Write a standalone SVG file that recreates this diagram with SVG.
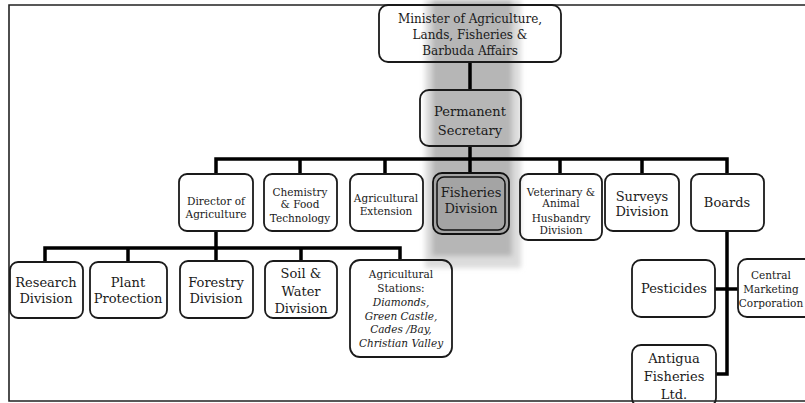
<svg xmlns="http://www.w3.org/2000/svg" width="805" height="403" viewBox="0 0 805 403">
<defs>
<style>
.box{fill:none;stroke:#1a1a1a;stroke-width:1.8}
.t{font-family:"DejaVu Serif","Liberation Serif",serif;fill:#1a1a1a;text-anchor:middle}
.s11{font-size:10.5px}
.s12{font-size:12px}
.s13{font-size:13px}
.it{font-style:italic}
.c{stroke:#000;fill:none;stroke-width:3.5}
.frame{stroke:#222;stroke-width:1.6;fill:none}
</style>
<filter id="soft" x="-20%" y="-5%" width="140%" height="110%"><feGaussianBlur stdDeviation="2.5"/></filter>
</defs>
<rect width="805" height="403" fill="#fff"/>
<g id="highlight" filter="url(#soft)">
<rect x="425" y="0" width="96" height="268" fill="#dcdcdc"/>
<rect x="432" y="0" width="80" height="256" fill="#b6b6b6"/>
</g>
<g id="frame">
<polyline class="frame" points="805,5 9,5 9,401 805,401"/>
</g>
<g id="connectors">
<line class="c" x1="470" y1="62" x2="470" y2="90"/>
<line class="c" x1="470" y1="146" x2="470" y2="173"/>
<polyline class="c" points="216,174 216,159 727,159 727,174"/>
<line class="c" x1="300" y1="159" x2="300" y2="174"/>
<line class="c" x1="385" y1="159" x2="385" y2="174"/>
<line class="c" x1="560" y1="159" x2="560" y2="174"/>
<line class="c" x1="642" y1="159" x2="642" y2="174"/>
<line class="c" x1="216" y1="231" x2="216" y2="261"/>
<polyline class="c" points="45,262 45,248 400,248 400,260"/>
<line class="c" x1="128" y1="248" x2="128" y2="262"/>
<line class="c" x1="301" y1="248" x2="301" y2="261"/>
<polyline class="c" points="727,231 727,374 716,374"/>
<line class="c" x1="715" y1="289" x2="738" y2="289"/>
</g>
<g id="minister">
<rect class="box" x="379" y="5" width="182" height="57" rx="9"/>
<text class="t s12" x="470" y="23">Minister of Agriculture,</text>
<text class="t s12" x="470" y="39">Lands, Fisheries &amp;</text>
<text class="t s12" x="470" y="55">Barbuda Affairs</text>
</g>
<g id="permanent-secretary">
<rect class="box" x="420" y="90" width="101" height="56" rx="9"/>
<text class="t s13" x="470" y="116">Permanent</text>
<text class="t s13" x="470" y="135">Secretary</text>
</g>
<g id="director">
<rect class="box" x="179" y="174" width="74" height="57" rx="8"/>
<text class="t s11" x="216" y="205">Director of</text>
<text class="t s11" x="216" y="218">Agriculture</text>
</g>
<g id="chemistry">
<rect class="box" x="264" y="174" width="73" height="57" rx="8"/>
<text class="t s11" x="300" y="196">Chemistry</text>
<text class="t s11" x="300" y="208">&amp; Food</text>
<text class="t s11" x="300" y="222">Technology</text>
</g>
<g id="extension">
<rect class="box" x="350" y="174" width="73" height="57" rx="8"/>
<text class="t s11" x="386" y="202">Agricultural</text>
<text class="t s11" x="386" y="215">Extension</text>
</g>
<g id="fisheries">
<rect x="433" y="173" width="76" height="61" rx="9" fill="#a4a4a4" stroke="#111" stroke-width="1.8"/>
<rect x="437" y="177" width="68" height="53" rx="7" fill="none" stroke="#111" stroke-width="1.5"/>
<text class="t s13" x="471" y="197">Fisheries</text>
<text class="t s13" x="471" y="213">Division</text>
</g>
<g id="veterinary">
<rect class="box" x="520" y="174" width="82" height="66" rx="8"/>
<text class="t s11" x="561" y="196">Veterinary &amp;</text>
<text class="t s11" x="561" y="207">Animal</text>
<text class="t s11" x="561" y="222">Husbandry</text>
<text class="t s11" x="561" y="234">Division</text>
</g>
<g id="surveys">
<rect class="box" x="605" y="174" width="74" height="57" rx="8"/>
<text class="t s13" x="642" y="201">Surveys</text>
<text class="t s13" x="642" y="216">Division</text>
</g>
<g id="boards">
<rect class="box" x="691" y="174" width="73" height="57" rx="8"/>
<text class="t s13" x="727" y="207">Boards</text>
</g>
<g id="research">
<rect class="box" x="10" y="262" width="73" height="56" rx="8"/>
<text class="t s13" x="46" y="287">Research</text>
<text class="t s13" x="46" y="303">Division</text>
</g>
<g id="plant">
<rect class="box" x="90" y="262" width="77" height="56" rx="8"/>
<text class="t s13" x="128" y="287">Plant</text>
<text class="t s13" x="128" y="303">Protection</text>
</g>
<g id="forestry">
<rect class="box" x="180" y="261" width="73" height="57" rx="8"/>
<text class="t s13" x="216" y="287">Forestry</text>
<text class="t s13" x="216" y="303">Division</text>
</g>
<g id="soil">
<rect class="box" x="265" y="261" width="72" height="57" rx="8"/>
<text class="t s13" x="301" y="278">Soil &amp;</text>
<text class="t s13" x="301" y="296">Water</text>
<text class="t s13" x="301" y="313">Division</text>
</g>
<g id="stations">
<rect class="box" x="350" y="260" width="102" height="97" rx="10"/>
<text class="t s11" x="401" y="278">Agricultural</text>
<text class="t s11" x="401" y="292">Stations:</text>
<text class="t s11 it" x="401" y="306">Diamonds,</text>
<text class="t s11 it" x="401" y="320">Green Castle,</text>
<text class="t s11 it" x="401" y="333">Cades /Bay,</text>
<text class="t s11 it" x="401" y="347">Christian Valley</text>
</g>
<g id="pesticides">
<rect class="box" x="632" y="260" width="83" height="57" rx="9"/>
<text class="t s13" x="674" y="293">Pesticides</text>
</g>
<g id="central-marketing">
<rect class="box" x="738" y="259" width="80" height="58" rx="9"/>
<text class="t s11" x="771" y="279">Central</text>
<text class="t s11" x="771" y="293">Marketing</text>
<text class="t s11" x="771" y="307">Corporation</text>
</g>
<g id="antigua">
<rect class="box" x="632" y="345" width="84" height="62" rx="9"/>
<text class="t s13" x="674" y="363">Antigua</text>
<text class="t s13" x="674" y="381">Fisheries</text>
<text class="t s13" x="674" y="399">Ltd.</text>
</g>
</svg>
